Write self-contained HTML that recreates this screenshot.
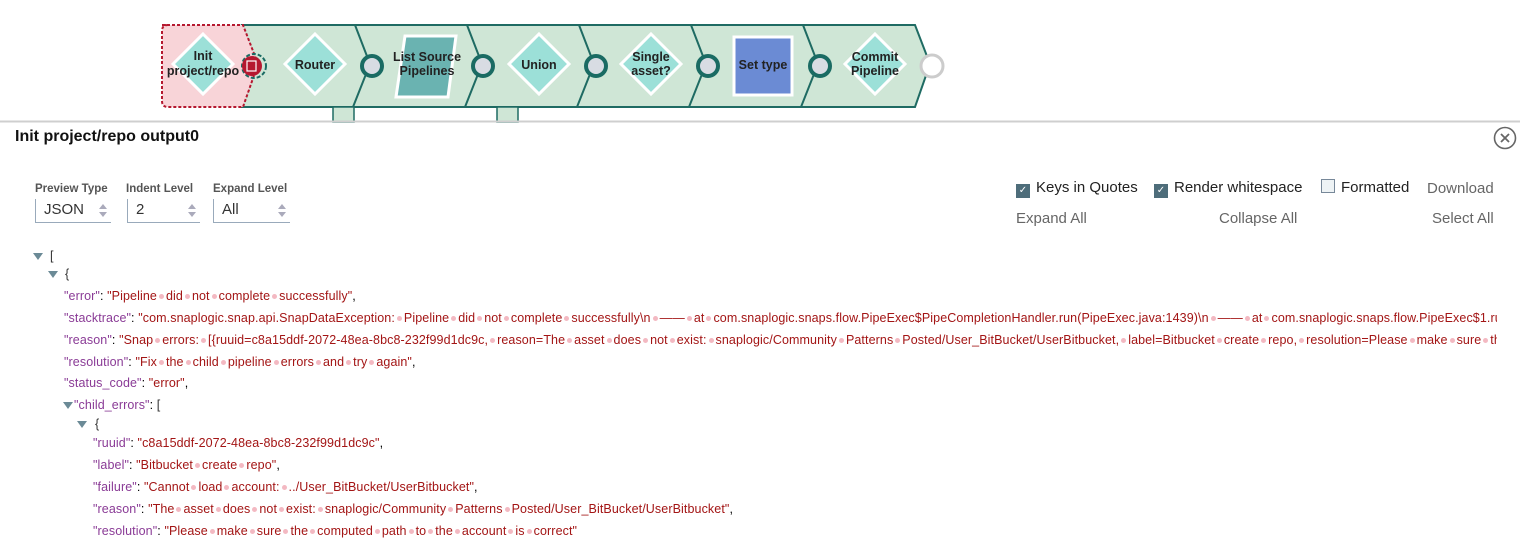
<!DOCTYPE html>
<html><head><meta charset="utf-8"><style>
body{margin:0;width:1532px;height:543px;overflow:hidden;background:#fff;font-family:"Liberation Sans",sans-serif;position:relative}
.r{position:absolute;white-space:nowrap;font-size:12.5px;line-height:16px;transform:translateY(-8px);letter-spacing:0.1px}
.k{color:#8a3b96}.v{color:#a31515}.p{color:#333}
.v i{display:inline-block;width:5px;height:5px;border-radius:50%;background:#f3b9c2;margin:0 2px;vertical-align:middle}
.t{position:absolute;width:0;height:0;border-left:5px solid transparent;border-right:5px solid transparent;border-top:7px solid #6b8a96;transform:translateY(-3px)}
.lbl{position:absolute;font-size:11.5px;color:#555;font-weight:bold}
.sel{position:absolute;height:24px;border-left:1px solid #9ab;border-bottom:1px solid #9ab;font-size:15px;color:#333;padding-left:8px;line-height:22px;box-sizing:border-box}
.sel:after{content:"";position:absolute;right:4px;top:5px;border:4px solid transparent;border-bottom:5px solid #aab;border-top:0}
.sel:before{content:"";position:absolute;right:4px;top:13px;border:4px solid transparent;border-top:5px solid #aab;border-bottom:0}
.cb{display:inline-block;width:12px;height:12px;border:1px solid #4e6d7a;background:#4e6d7a;vertical-align:-1px;margin-right:6px;color:#fff;font-size:10px;line-height:12px;text-align:center}
.ctl{position:absolute;font-size:15px;color:#222}
.g{position:absolute;font-size:15px;color:#666}
#clip{position:absolute;left:0;top:0;width:1497px;height:543px;overflow:hidden}
</style></head><body>
<svg width="1532" height="125" style="position:absolute;left:0;top:0" font-family="Liberation Sans,sans-serif">
<path d="M242 25 L915 25 L930 64 L915 107 L242 107 L257 64 Z" fill="#cfe6d6" stroke="#1f6b63" stroke-width="2"/>
<rect x="333" y="107" width="21" height="15" fill="#cfe6d6" stroke="#1f6b63" stroke-width="1.5"/>
<rect x="497" y="107" width="21" height="15" fill="#cfe6d6" stroke="#1f6b63" stroke-width="1.5"/>
<g stroke="#1f6b63" stroke-width="2" fill="none">
<path d="M355 25 L370 64 L353 107"/><path d="M467 25 L482 64 L465 107"/><path d="M579 25 L594 64 L577 107"/><path d="M691 25 L706 64 L689 107"/><path d="M803 25 L818 64 L801 107"/>
</g>
<path d="M162 25 L243 25 L258 64 L243 107 L168 107 Q162 107 162 101 L162 31 Q162 25 168 25 Z" fill="#f8d4d8" stroke="#b5182f" stroke-width="2" stroke-dasharray="3,2"/>
<g stroke="#fff" stroke-width="3" fill="#9ce0d8">
<path d="M203 34 L233 64 L203 94 L173 64 Z"/>
<path d="M315 34 L345 64 L315 94 L285 64 Z"/>
<path d="M539 34 L569 64 L539 94 L509 64 Z"/>
<path d="M651 34 L681 64 L651 94 L621 64 Z"/>
<path d="M875 34 L905 64 L875 94 L845 64 Z"/>
<path d="M405 36 L456 36 L448 97 L396 97 Z" fill="#6ab3b1"/>
<rect x="734" y="37" width="58" height="58" fill="#6b8bd4"/>
</g>
<g font-size="12.5" font-weight="bold" fill="#222" text-anchor="middle">
<text x="203" y="60">Init</text><text x="203" y="75">project/repo</text>
<text x="315" y="69">Router</text>
<text x="427" y="61">List Source</text><text x="427" y="75">Pipelines</text>
<text x="539" y="69">Union</text>
<text x="651" y="61">Single</text><text x="651" y="75">asset?</text>
<text x="763" y="69">Set type</text>
<text x="875" y="61">Commit</text><text x="875" y="75">Pipeline</text>
</g>
<g fill="#d8dce3" stroke="#1a6b63" stroke-width="4">
<circle cx="372" cy="66" r="10"/><circle cx="483" cy="66" r="10"/><circle cx="596" cy="66" r="10"/><circle cx="708" cy="66" r="10"/><circle cx="820" cy="66" r="10"/>
</g>
<circle cx="932" cy="66" r="11" fill="#fff" stroke="#ccc" stroke-width="3"/>
<circle cx="254" cy="66" r="12" fill="none" stroke="#1a6b63" stroke-width="2" stroke-dasharray="4,2"/>
<circle cx="252" cy="66" r="10" fill="#b5182f"/>
<rect x="247" y="61" width="9" height="10" fill="none" stroke="#fff" stroke-width="1.2"/>
<line x1="0" y1="121.5" x2="1520" y2="121.5" stroke="#cfcfcf" stroke-width="2"/>
</svg>
<div style="position:absolute;left:15px;top:128px;font-size:16px;font-weight:bold;color:#111">Init project/repo output0</div>
<svg width="26" height="26" style="position:absolute;left:1493px;top:126px"><circle cx="12" cy="12" r="10.5" fill="none" stroke="#666" stroke-width="1.6"/><path d="M8 8 L16 16 M16 8 L8 16" stroke="#666" stroke-width="1.8"/></svg>
<div class="lbl" style="left:35px;top:183px">Preview Type</div>
<div class="lbl" style="left:126px;top:183px">Indent Level</div>
<div class="lbl" style="left:213px;top:183px">Expand Level</div>
<div class="sel" style="left:35px;top:199px;width:76px">JSON</div>
<div class="sel" style="left:127px;top:199px;width:73px">2</div>
<div class="sel" style="left:213px;top:199px;width:77px">All</div>
<div class="ctl" style="left:1016px;top:179px"><span class="cb">✓</span>Keys in Quotes</div>
<div class="ctl" style="left:1154px;top:179px"><span class="cb">✓</span>Render whitespace</div>
<div class="ctl" style="left:1321px;top:179px"><span class="cb" style="background:#eef3f5;border-color:#789"></span>Formatted</div>
<div class="g" style="left:1427px;top:180px">Download</div>
<div class="g" style="left:1016px;top:210px">Expand All</div>
<div class="g" style="left:1219px;top:210px">Collapse All</div>
<div class="g" style="left:1432px;top:210px">Select All</div>
<div id="clip">
<div class="t" style="left:33px;top:256px"></div><div class="r p" style="left:50px;top:256px">[</div>
<div class="t" style="left:48px;top:274px"></div><div class="r p" style="left:65px;top:274px">{</div>
<div class="r" style="left:64px;top:296px"><span class="k">"error"</span>: <span class="v">"Pipeline did not complete successfully"</span>,</div>
<div class="r" style="left:64px;top:318px"><span class="k">"stacktrace"</span>: <span class="v">"com.snaplogic.snap.api.SnapDataException: Pipeline did not complete successfully\n —— at com.snaplogic.snaps.flow.PipeExec$PipeCompletionHandler.run(PipeExec.java:1439)\n —— at com.snaplogic.snaps.flow.PipeExec$1.run(PipeExec.java:900)</span></div>
<div class="r" style="left:64px;top:340px"><span class="k">"reason"</span>: <span class="v">"Snap errors: [{ruuid=c8a15ddf-2072-48ea-8bc8-232f99d1dc9c, reason=The asset does not exist: snaplogic/Community Patterns Posted/User_BitBucket/UserBitbucket, label=Bitbucket create repo, resolution=Please make sure the</span></div>
<div class="r" style="left:64px;top:362px"><span class="k">"resolution"</span>: <span class="v">"Fix the child pipeline errors and try again"</span>,</div>
<div class="r" style="left:64px;top:383px"><span class="k">"status_code"</span>: <span class="v">"error"</span>,</div>
<div class="t" style="left:63px;top:405px"></div><div class="r" style="left:74px;top:405px"><span class="k">"child_errors"</span>: <span class="p">[</span></div>
<div class="t" style="left:77px;top:424px"></div><div class="r p" style="left:95px;top:424px">{</div>
<div class="r" style="left:93px;top:443px"><span class="k">"ruuid"</span>: <span class="v">"c8a15ddf-2072-48ea-8bc8-232f99d1dc9c"</span>,</div>
<div class="r" style="left:93px;top:465px"><span class="k">"label"</span>: <span class="v">"Bitbucket create repo"</span>,</div>
<div class="r" style="left:93px;top:487px"><span class="k">"failure"</span>: <span class="v">"Cannot load account: ../User_BitBucket/UserBitbucket"</span>,</div>
<div class="r" style="left:93px;top:509px"><span class="k">"reason"</span>: <span class="v">"The asset does not exist: snaplogic/Community Patterns Posted/User_BitBucket/UserBitbucket"</span>,</div>
<div class="r" style="left:93px;top:531px"><span class="k">"resolution"</span>: <span class="v">"Please make sure the computed path to the account is correct"</span></div>
</div>
<script>
document.querySelectorAll('.v').forEach(function(e){e.innerHTML=e.textContent.split(' ').map(function(s){return s.replace(/&/g,'&amp;').replace(/</g,'&lt;')}).join('<i></i>');});
</script>
</body></html>
